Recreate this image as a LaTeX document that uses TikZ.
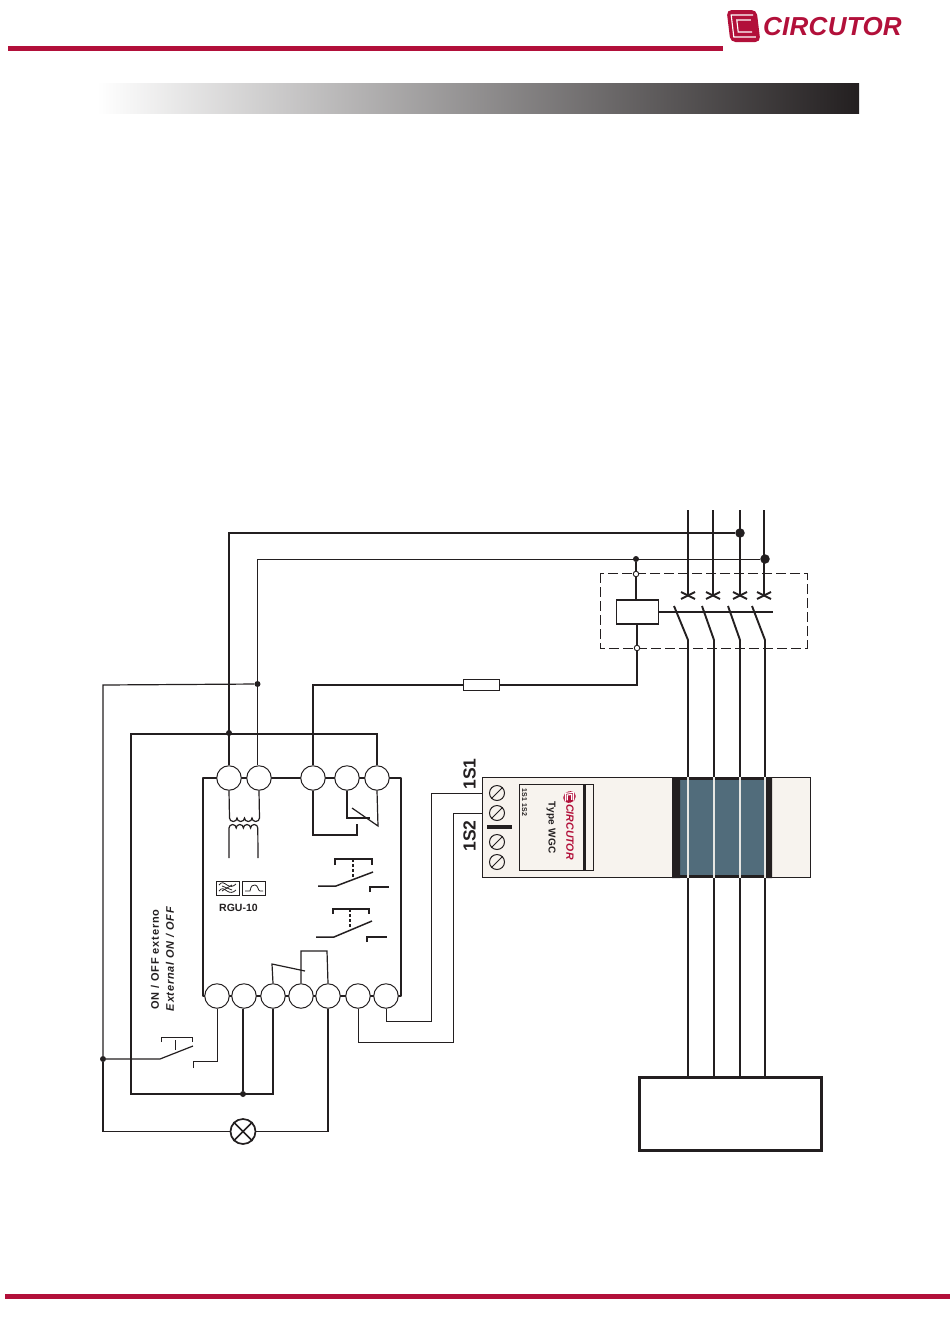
\documentclass[tikz,border=0pt]{standalone}
\usepackage{fontspec}
\setmainfont{Liberation Sans}
\usepackage{xcolor}
\definecolor{brandred}{HTML}{B2103A}
\definecolor{inkblack}{HTML}{231F20}
\definecolor{coreteal}{HTML}{516C7B}
\definecolor{cream}{HTML}{F7F3EE}
\definecolor{barwhite}{HTML}{E6E6E2}
\tikzset{
  terminal/.style={draw=inkblack,fill=white,circle,line width=1pt,minimum size=24.5pt,inner sep=0pt},
  tapdot/.style={fill=inkblack,circle,minimum size=6pt,inner sep=0pt},
  bigdot/.style={fill=inkblack,circle,minimum size=9.5pt,inner sep=0pt},
  opendot/.style={draw=inkblack,fill=white,circle,line width=.9pt,minimum size=5.5pt,inner sep=0pt},
  screw/.style={draw=inkblack,fill=cream,circle,line width=1pt,minimum size=15pt,inner sep=0pt},
  wire/.style={draw=inkblack,line width=1.2pt},
  thinwire/.style={draw=inkblack,line width=1pt},
  phase/.style={draw=inkblack,line width=1.9pt},
  pics/logomark/.style={code={
    \fill[brandred,rounded corners=5pt,xslant=-.12] (-15,-16) rectangle (15,16);
    \draw[white,line width=.07*16pt,xslant=-.12] (11,-11) -- (-11,-11) -- (-11,11) -- (11,11);
    \draw[white,line width=.07*16pt,xslant=-.12] (8,-6) -- (-6,-6) -- (-6,6) -- (8,6);
  }}
}
\begin{document}
\begin{tikzpicture}[x=1pt,y=-1pt]
\useasboundingbox (0,0) rectangle (950,1344);
\fill[brandred] (8,45.5) rectangle (723,50.5);
\fill[brandred] (5,1293.5) rectangle (950,1298.5);
\shade[left color=white,right color=inkblack] (97,83) rectangle (859,113.5);
\pic at (743.5,26) {logomark};
\node[text=brandred,anchor=west,inner sep=0pt,font=\fontsize{26}{26}\selectfont\bfseries\itshape\addfontfeature{LetterSpace=1}] (brandname) at (763,26.5) {CIRCUTOR};

\draw[line width=2.8pt,draw=inkblack,line join=round] (203,996) -- (203,778) -- (401,778) -- (401,996) -- cycle;
\foreach \name/\xx in {a/229,b/259,c/313,d/347,e/377}
  \node[terminal] (\name) at (\xx,778) {};
\foreach \name/\xx in {k/217,l/244,m/273,n/301,o/328,p/358,q/386}
  \node[terminal] (\name) at (\xx,996) {};

\node[bigdot] (dotr) at (740,533) {};
\node[bigdot] (dots) at (765,559) {};
\node[tapdot] (dotcoil) at (636,559) {};
\node[tapdot] (dotb) at (257.5,684) {};
\node[tapdot] (dota) at (229,733) {};
\node[tapdot] (dotsw) at (103,1059) {};
\node[tapdot] (dotm) at (243,1094) {};

\draw[wire] (a.north) -- (229,533) -- (dotr);
\draw[thinwire] (b.98) -- (b.98 |- dots) -- (dots);
\draw[wire] (e.north) -- (377,734) -- (131,734) -- (131,1094) -- (273,1094) -- (m.south);
\draw[wire] (dotm |- l.south) -- (dotm);
\draw[wire] (dotb) -- (103,685) -- (dotsw);

\draw[dash pattern=on 10pt off 4pt,draw=inkblack,line width=.8pt] (600,573) rectangle (807,648);
\node[draw=inkblack,line width=1.8pt,fill=white,minimum width=42pt,minimum height=24pt,inner sep=0pt] (coil) at (637.5,612) {};
\node[opendot] (coilin) at (636,574) {};
\node[opendot] (coilout) at (637,648) {};
\draw[wire] (dotcoil) -- (coilin) -- (coil.north -| coilin);
\draw[wire] (coil.south -| coilout) -- (coilout) -- (637,685) -- (313,685) -- (c.north);
\node[draw=inkblack,fill=white,line width=.8pt,minimum width=36pt,minimum height=11pt,inner sep=0pt] (fuse) at (481,684.5) {};
\draw[line width=1.8pt,draw=inkblack] (coil.east) -- (773,612);

\foreach \xa/\xb/\xc in {688/688/674,713/714/702,740/740/728,764/765/752} {
  \draw[phase] (\xa,510) -- (\xa,596);
  \draw[phase] (\xa-7,592) -- (\xa+7,599);
  \draw[phase] (\xa-7,599) -- (\xa+7,592);
  \draw[phase] (\xc,606) -- (\xb,640) -- (\xb,1077);
}
\node[draw=inkblack,line width=2.6pt,fill=white,minimum width=182pt,minimum height=73pt,inner sep=0pt] (load) at (730.5,1114) {};

\node[draw=inkblack,line width=1pt,fill=cream,minimum width=328pt,minimum height=100pt,inner sep=0pt] (ctbody) at (646,827) {};
\fill[coreteal] (673,777) rectangle (772,877);
\draw[inkblack,line width=3pt] (673,778) -- (772,778) (673,876.5) -- (772,876.5);
\fill[inkblack] (672,777) rectangle (680,878) (766,777) rectangle (772,878);
\foreach \xx in {688,714,740,765}
  \draw[line width=2.6pt,draw=barwhite] (\xx,777) -- (\xx,878);

\foreach \name/\yy in {sa/793,sb/813,sc/842,sd/862} {
  \node[screw] (\name) at (497,\yy) {};
  \draw[inkblack,line width=1pt] (\name.225) -- (\name.45);
}
\fill[inkblack] (487,825) rectangle (512,829);
\draw[inkblack,fill=cream,line width=1pt] (519,784) rectangle (593,870.5);
\fill[inkblack] (582.5,784) rectangle (585.5,870.5);
\node[rotate=-90,font=\fontsize{7}{7}\selectfont\bfseries\addfontfeature{LetterSpace=4},text=inkblack,inner sep=0pt] (lblterm) at (524.5,802.5) {1S1 1S2};
\node[rotate=-90,font=\fontsize{10}{10}\selectfont\bfseries\addfontfeature{LetterSpace=3},text=inkblack,inner sep=0pt] (lbltype) at (551,827.5) {Type WGC};
\node[rotate=-90,font=\fontsize{10.5}{11}\selectfont\bfseries\itshape,text=brandred,inner sep=0pt] (lbllogo) at (570,832) {CIRCUTOR};
\pic[rotate=-90,scale=.38] at (569.5,797) {logomark};

\draw[thinwire] (q.south) -- (386,1021) -- (431,1021) -- (431,793) -- (ctbody.west |- sa);
\draw[thinwire] (p.south) -- (358,1042) -- (453.5,1042) -- (453.5,813) -- (ctbody.west |- sb);
\node[rotate=90,font=\fontsize{17.5}{18}\selectfont\bfseries,text=inkblack,inner sep=0pt] (lblsa) at (469.5,774) {1S1};
\node[rotate=90,font=\fontsize{17.5}{18}\selectfont\bfseries,text=inkblack,inner sep=0pt] (lblsb) at (469.5,836) {1S2};

\draw[wire] (a.south) -- (229.5,818) (b.south) -- (259.5,818);
\draw[wire] (229.5,818) arc (180:360:3.75 and -3.5) arc (180:360:3.75 and -3.5) arc (180:360:3.75 and -3.5) arc (180:360:3.75 and -3.5);
\draw[wire] (229,858) -- (229,828) arc (180:360:3.6 and 3.5) arc (180:360:3.6 and 3.5) arc (180:360:3.6 and 3.5) arc (180:360:3.6 and 3.5) -- (258,858);

\draw[wire] (d.south) -- (347,818) -- (370,818);
\draw[wire] (352,808) -- (378,826) -- (e.south);
\draw[wire] (c.south) -- (313,835) -- (357,835) -- (357,824);

\draw[phase,line width=1.5pt] (318,886) -- (336,886) -- (373,872);
\draw[phase,line width=1.5pt] (335,865) -- (335,859) -- (372,859) -- (372,865);
\draw[phase,line width=1.5pt,dash pattern=on 3pt off 2pt] (353,859) -- (353,878);
\draw[phase,line width=1.5pt] (370,892) -- (370,887) -- (389,887);
\draw[phase,line width=1.5pt] (316,937) -- (334,937) -- (372,921);
\draw[phase,line width=1.5pt] (333,914) -- (333,909) -- (369,909) -- (369,914);
\draw[phase,line width=1.5pt,dash pattern=on 3pt off 2pt] (350,909) -- (350,928);
\draw[phase,line width=1.5pt] (367,942) -- (367,937) -- (387,937);

\draw[wire] (m.north) -- (272,964) -- (305,971);
\draw[wire] (n.north) -- (301,951) -- (327,951) -- (o.north);

\node[draw=inkblack,line width=.9pt,minimum width=23pt,minimum height=14pt,inner sep=0pt] (filtera) at (227.5,888) {};
\node[draw=inkblack,line width=.9pt,minimum width=23pt,minimum height=14pt,inner sep=0pt] (filterb) at (253.5,888) {};
\draw[inkblack,line width=.8pt] (219,885) .. controls (222,881) and (224,883) .. (227,885) .. controls (230,887) and (233,887) .. (236,884);
\draw[inkblack,line width=.8pt] (219,891) .. controls (222,887) and (224,889) .. (227,891) .. controls (230,893) and (233,893) .. (236,890);
\draw[inkblack,line width=.8pt] (222,886) -- (232,890) (232,885) -- (222,891);
\draw[inkblack,line width=.8pt] (245,891) -- (250,891) .. controls (251,885) and (253,885) .. (255,885) .. controls (258,885) and (258,891) .. (260,891) -- (263,891);
\node[font=\fontsize{10.5}{11}\selectfont\bfseries,text=inkblack,inner sep=0pt] (rgu) at (238.5,907.5) {RGU-10};

\node[rotate=90,font=\fontsize{11}{11}\selectfont\bfseries\addfontfeature{LetterSpace=7},text=inkblack,inner sep=0pt] (lblon) at (155,959.5) {ON / OFF externo};
\node[rotate=90,font=\fontsize{11}{11}\selectfont\bfseries\itshape\addfontfeature{LetterSpace=7},text=inkblack,inner sep=0pt] (lblext) at (170,959) {External ON / OFF};

\coordinate (swleft) at (160,1059);
\draw[wire] (dotsw) -- (swleft) -- (193,1046);
\draw[inkblack,line width=1pt] (161,1042) -- (161,1037) -- (192,1037) -- (192,1042);
\draw[inkblack,line width=.8pt] (175,1040) -- (175,1050);
\draw[wire,line width=1pt] (193,1068) -- (193,1061) -- (217,1061) -- (k.south);

\node[draw=inkblack,line width=1.7pt,fill=white,circle,minimum size=25pt,inner sep=0pt] (lamp) at (243,1131.5) {};
\draw[inkblack,line width=1.7pt] (lamp.45) -- (lamp.225) (lamp.135) -- (lamp.315);
\draw[wire,line width=1.4pt] (dotsw) -- (103,1131.5) -- (lamp.west);
\draw[wire,line width=1.4pt] (lamp.east) -- (328,1131.5) -- (o.south);
\end{tikzpicture}
\end{document}
